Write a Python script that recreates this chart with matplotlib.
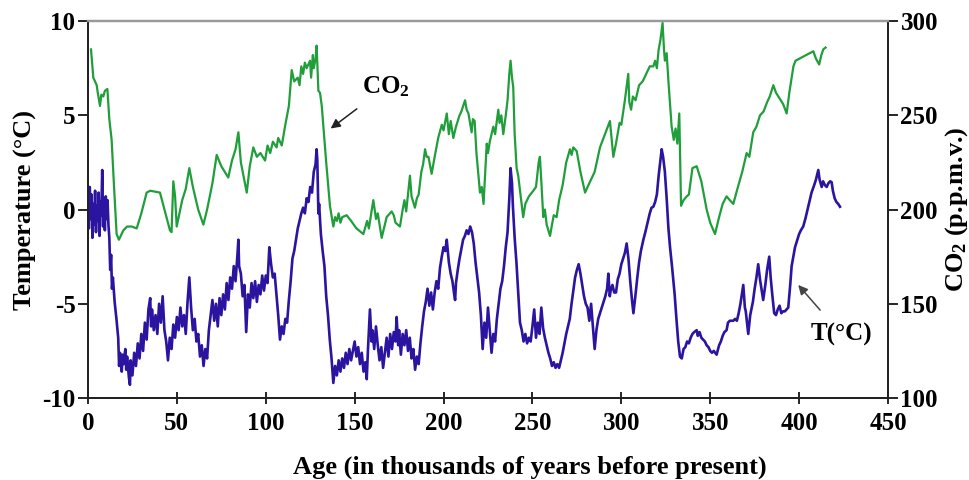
import matplotlib
matplotlib.use("Agg")
import matplotlib.pyplot as plt

plt.rcParams['font.family'] = ['Liberation Serif', 'DejaVu Serif']
plt.rcParams['font.weight'] = 'bold'
plt.rcParams['axes.labelweight'] = 'bold'
plt.rcParams['axes.unicode_minus'] = False
plt.rcParams['mathtext.fontset'] = 'custom'
plt.rcParams['mathtext.rm'] = 'Liberation Serif:bold'
plt.rcParams['mathtext.it'] = 'Liberation Serif:bold'
plt.rcParams['mathtext.bf'] = 'Liberation Serif:bold'

# ---- Temperature (deg C) vs age (kyr BP) ----
temp_age = [
    0, 0.5, 1, 1.5, 2, 2.5, 3, 3.5, 4, 4.5, 5, 5.5, 6, 6.5, 7, 7.5, 8, 8.5, 9, 9.5, 10, 10.5, 11, 11.5,
    12, 12.5, 13, 13.5, 14, 15, 16, 17, 17.5, 18, 19, 19.5, 20, 21, 21.5, 22, 23, 23.6, 24, 25, 26, 27, 28, 29,
    30, 31, 32, 33, 34, 35, 35.5, 36, 37, 38, 39, 40, 41, 42, 43, 44, 45, 46, 47, 48, 49, 50, 51, 52, 53, 54,
    55, 56, 57, 58, 59, 60, 61, 62, 63, 64, 65, 66, 67, 68, 69, 70, 71, 72, 73, 74, 75, 76, 77, 78, 79, 80,
    81, 82, 83, 84, 84.6, 85, 86, 87, 88, 89, 90, 91, 92, 93, 94, 95, 96, 97, 98, 99, 100, 101, 102, 103, 104,
    105, 106, 107, 108, 109, 110, 111, 112, 113, 114, 115, 116, 117, 118, 119, 120, 121, 122, 123, 124, 125,
    126, 127, 128, 128.6, 129, 129.6, 130, 131, 132, 133, 134, 135, 136, 137, 138, 139, 140, 141, 142, 143,
    144, 145, 146, 147, 148, 149, 150, 151, 152, 153, 154, 155, 156, 156.8, 157.5, 158.6, 159.5, 160, 161,
    162, 163, 164, 165, 166, 167, 168, 169, 170, 171, 172, 173, 173.6, 174.5, 175, 176, 177, 178, 179, 180,
    181, 182, 183, 184, 185, 186, 187, 188, 189, 190, 191, 192, 193, 194, 195, 196, 197, 198, 199, 200, 201,
    201.8, 202.5, 203, 204, 205, 206, 206.5, 207, 208, 209, 210, 211, 212, 213, 214, 215, 216, 217, 218, 219,
    220, 221, 222, 223, 224, 225, 226, 227, 228, 229, 230, 231, 232, 233, 234, 235, 236, 237, 237.7, 238.5,
    239, 240, 241, 242, 243, 244, 245, 246, 247, 248, 249, 250, 251, 252, 253, 254, 255, 256, 257, 258, 259,
    260, 261, 262, 263, 264, 265, 266, 267, 268, 269, 270, 271, 272, 273, 274, 275, 276, 277, 278, 279, 280,
    281, 282, 283, 284, 285, 286, 287, 288, 289, 290, 291, 292, 292.7, 293.5, 294, 295, 296, 297, 298, 299,
    300, 301, 302, 303, 304, 305, 306, 306.8, 308, 309, 310, 311, 312.4, 313.5, 315, 316, 317, 318, 319, 320,
    321, 322, 322.7, 323.5, 324.5, 325.5, 326.5, 327.4, 328.5, 330, 331, 332, 333, 334, 335, 336, 337, 338,
    339, 340, 341, 342.4, 343, 344, 345, 346, 347, 348, 349, 350, 351, 352, 353.6, 355, 356, 357, 358, 359.2,
    360, 361, 362, 363, 364, 365, 366, 367, 368.6, 369.5, 370, 371.4, 372.5, 374, 375, 376, 377, 378, 379,
    379.8, 381, 382, 383.2, 384, 385, 386, 387, 388, 389, 390, 391, 392, 393.9, 395, 395.8, 397.7, 399, 400,
    401, 402.3, 403.5, 405, 407, 408.5, 409.5, 410.8, 411.5, 412.7, 413.5, 414.5, 415.5, 416.5, 417.5, 418.3,
    419, 420, 421, 422, 423,
]
temp_val = [
    0.5, -1.0, 1.2, -0.5, 0.8, -1.5, 0.3, -0.8, 1.0, -1.2, 0.2, -0.6, 0.9, -1.4, 0.4, -0.3, 2.1, -0.9, 0.6, -1.1, 0.7, -0.5, 0.5, -0.8,
    -1.5, -3.2, -2.4, -4.2, -3.6, -4.9, -5.8, -6.8, -8.3, -7.6, -8.6, -7.7, -8.2, -7.4, -8.5, -7.8, -8.9, -9.3, -8.0, -8.8, -7.6, -8.3, -7.1, -7.9,
    -6.6, -7.5, -6.0, -6.9, -5.3, -4.7, -6.2, -5.3, -6.4, -5.6, -6.6, -5.0, -6.0, -4.6, -6.4, -7.0, -8.0, -6.8, -7.4, -6.1, -6.8, -5.7, -6.4, -5.2, -6.2, -5.6,
    -6.6, -4.9, -3.6, -5.2, -6.4, -5.8, -7.0, -6.6, -7.8, -7.2, -8.3, -7.4, -7.9, -6.4, -5.6, -4.8, -5.9, -5.0, -6.2, -4.7, -5.6, -4.5, -5.3, -3.9, -4.8, -3.6,
    -4.2, -3.0, -3.8, -2.5, -1.6, -3.0, -3.4, -4.6, -4.0, -6.5, -4.5, -5.2, -3.9, -4.7, -3.8, -4.9, -4.0, -4.5, -3.5, -4.3, -3.5, -3.9, -2.0, -2.9, -3.6,
    -3.4, -4.5, -5.6, -6.9, -6.2, -6.6, -5.8, -6.0, -4.8, -3.8, -2.6, -2.2, -1.6, -1.0, -0.6, -0.2, 0.1, -0.2, 0.6, 0.4, 1.2,
    0.9, 2.0, 2.4, 3.2, 2.6, -0.2, 0.3, -1.3, -2.2, -3.0, -4.6, -5.6, -6.9, -7.9, -9.2, -8.3, -8.8, -8.0, -8.6, -7.9,
    -8.4, -7.6, -8.2, -7.4, -8.0, -7.5, -7.0, -7.8, -7.3, -8.2, -7.6, -8.6, -8.1, -9.0, -7.4, -5.3, -7.0, -6.4, -7.4,
    -6.2, -7.2, -8.0, -7.3, -8.4, -7.6, -6.8, -7.8, -6.6, -7.4, -6.5, -7.0, -5.7, -7.2, -6.4, -7.7, -6.6, -7.2, -6.4, -7.5,
    -6.8, -7.9, -7.4, -8.5, -7.8, -8.2, -7.1, -6.2, -5.4, -4.9, -4.2, -5.1, -4.4, -5.3, -4.4, -3.8, -4.2, -3.1, -2.5, -2.0, -2.2,
    -1.6, -2.3, -2.8, -3.4, -3.8, -4.5, -4.8, -3.9, -3.2, -2.6, -2.1, -1.6, -1.4, -1.1, -1.3, -0.9, -1.2, -1.8, -2.8, -3.6,
    -4.4, -5.6, -7.4, -6.0, -6.8, -5.2, -6.4, -7.6, -6.6, -7.0, -5.8, -5.0, -4.2, -3.8, -3.0, -2.0, -1.2, 0.6, 2.2, 1.4,
    0.2, -1.5, -2.8, -4.4, -6.0, -6.4, -7.0, -6.6, -7.1, -6.8, -7.0, -6.2, -5.3, -6.8, -6.0, -6.6, -5.2, -6.3, -6.8, -7.2, -7.6,
    -7.9, -8.3, -8.1, -8.4, -8.2, -8.4, -8.0, -7.6, -7.1, -6.6, -6.2, -5.8, -5.0, -4.3, -3.6, -3.2, -2.9, -3.4, -4.0, -4.6, -5.0,
    -5.2, -5.9, -5.0, -6.2, -7.4, -6.4, -5.8, -5.5, -5.2, -4.9, -4.6, -4.2, -3.4, -4.6, -4.3, -4.0, -4.4, -4.4, -3.7, -3.4,
    -2.9, -2.6, -2.3, -1.8, -2.6, -3.8, -4.8, -5.5, -4.5, -3.6, -2.8, -2.2, -1.6, -1.2, -0.6, -0.2, 0.1, 0.15, 0.4, 0.8,
    1.8, 2.6, 3.2, 2.8, 2.0, 0.6, -1.0, -2.0, -3.0, -4.5, -5.8, -7.0, -7.8, -7.9, -7.4, -7.3, -7.0, -7.1,
    -6.8, -6.6, -6.5, -6.4, -6.7, -6.5, -6.8, -6.9, -7.0, -7.2, -7.3, -7.5, -7.6, -7.5, -7.7, -7.2, -7.0, -6.7, -6.5, -6.4,
    -6.0, -5.9, -5.9, -5.9, -5.8, -5.9, -5.5, -5.0, -4.0, -5.2, -5.4, -6.6, -5.6, -4.9, -4.2, -3.6, -2.9, -3.7, -4.3,
    -4.8, -4.0, -3.2, -2.5, -3.6, -4.6, -5.5, -5.6, -5.3, -5.1, -5.5, -5.4, -5.4, -5.2, -4.0, -3.0, -2.0, -1.6, -1.3,
    -1.1, -0.9, -0.5, 0.1, 0.9, 1.3, 1.6, 2.1, 1.6, 1.2, 1.5, 1.3, 1.2, 1.4, 1.5, 1.45,
    1.0, 0.6, 0.4, 0.3, 0.15,
]

# ---- CO2 (ppmv) vs age (kyr BP) ----
co2_age = [
    1.7, 3, 4.9, 5.5, 6.75, 7.5, 8.6, 9.5, 10.9, 12, 13.3, 14.5, 16.1, 17.4, 19.9, 22, 24.6, 27.4, 30, 33,
    35, 40.5, 43, 46.1, 47, 48, 49, 49.9, 51, 53, 55, 57, 59, 62, 64.9, 67, 70, 72.4, 75, 78.9, 81, 83, 84.6,
    86, 89.3, 91, 93, 95, 97, 99.6, 101, 102.5, 104, 106.1, 107, 109, 111, 113, 114.6, 116, 118, 119, 120,
    121, 122, 123, 124.9, 125.5, 126.5, 127, 128, 128.6, 129.6, 130.5, 131.5, 132.4, 134, 136.1, 138, 139,
    140, 141, 142, 143, 145.5, 148, 151, 154.9, 157, 158, 160.5, 162, 163, 165.2, 167, 168, 170.8, 172, 173,
    175.5, 177, 178, 179, 181.1, 182, 183.9, 185, 186, 187.5, 188.5, 189.6, 190.5, 191.5, 193.3, 195, 197,
    199, 200, 201.8, 203, 204, 205.5, 207, 209, 210, 212.1, 213, 214, 215.8, 216.5, 217.5, 218.5, 220.5,
    221.5, 222.5, 224.3, 225, 226, 228, 229, 230.8, 231.5, 232.5, 233.6, 235, 236, 237, 237.7, 238.5, 239.2,
    240, 241.1, 242, 244.8, 246, 248, 250.5, 252, 253.5, 254.2, 255, 256.1, 257, 258, 259.9, 261, 262, 263.6,
    265, 267, 269, 271.1, 272, 273, 274.9, 277, 279.6, 282, 285, 288, 290, 292, 293.6, 294.5, 295.5, 297,
    299, 300, 302, 303.9, 304.5, 305.5, 306.5, 308, 310, 312, 314, 316, 318, 319, 320, 321, 322, 323.2, 324,
    324.5, 325.5, 326.5, 328.3, 329.5, 330.5, 331.5, 332.6, 333.6, 335, 336.8, 338, 340, 342.4, 345, 348,
    350, 352.7, 355, 357, 359.2, 361, 363, 365, 368, 370.5, 372, 374.2, 376, 378, 380, 382, 383.5, 385.5,
    387, 389, 391, 393, 394.5, 396.8, 398, 400, 402, 404, 406, 408, 409.5, 411.3, 412.5, 413.6, 414.9,
]
co2_val = [
    285, 270, 266, 262, 255, 261, 260, 263, 264, 248, 237, 215, 187, 184, 189, 191, 191, 190, 198, 209,
    210, 209, 200, 189, 188, 215, 207, 191, 196, 205, 211, 222, 212, 200, 192, 200, 214, 229, 223, 217, 226, 232, 241,
    225, 209, 223, 233, 228, 230, 226, 234, 230, 236, 233, 238, 234, 245, 255, 274, 268, 270, 266, 276,
    272, 278, 275, 279, 270, 282, 275, 280, 287, 263, 262, 255, 244, 225, 202, 191, 196,
    194, 198, 193, 196, 197, 194, 190, 187, 194, 190, 205, 195, 198, 185, 192, 196, 199, 197, 193,
    191, 200, 205, 199, 218, 207, 201, 206, 208, 220, 224, 232, 228, 228, 219, 228, 238,
    245, 242, 251, 240, 247, 238, 244, 250, 252, 258, 253, 251, 241, 248, 247, 230, 209,
    212, 203, 235, 230, 236, 244, 240, 253, 246, 250, 240, 250, 258, 272, 279, 270, 265,
    240, 222, 218, 196, 203, 207, 210, 212, 225, 228, 215, 196, 200, 192, 186, 192, 197, 196,
    205, 213, 225, 232, 229, 233, 231, 220, 209, 214, 220, 233, 238, 243, 247, 238, 228, 235,
    246, 245, 258, 272, 257, 253, 260, 258, 266, 268, 272, 276, 276, 279, 275, 285, 290, 299, 285,
    279, 283, 268, 244, 237, 243, 235, 251, 202, 205, 207, 208, 222, 223, 215, 200,
    193, 187, 196, 203, 207, 205, 203, 210, 220, 230, 228, 241, 244, 250, 252, 257, 260, 266,
    262, 259, 256, 251, 262, 276, 279, 280, 281, 282, 283, 284, 280, 277, 282, 285, 286,
]

x_ticks = [0, 50, 100, 150, 200, 250, 300, 350, 400, 450]
temp_ticks = [-10, -5, 0, 5, 10]
co2_ticks = [100, 150, 200, 250, 300]

GREEN = '#1f9e3a'
BLUE = '#2a14a0'

fig = plt.figure(figsize=(9.69, 4.80), dpi=100)
ax = fig.add_axes([0.0908, 0.1708, 0.8256, 0.7852])
ax2 = ax.twinx()

ax.plot(temp_age, temp_val, color=BLUE, lw=1.9, zorder=3)
ax2.plot(co2_age, co2_val, color=GREEN, lw=1.6, zorder=3)

ax.set_xlim(0, 450)
ax.set_ylim(-10, 10)
ax2.set_ylim(100, 300)
ax.set_xticks(x_ticks)
ax.set_yticks(temp_ticks)
ax2.set_yticks(co2_ticks)

fs = 18
ax.tick_params(axis='y', direction='out', length=7, width=1.2, labelsize=fs, pad=2)
ax.tick_params(axis='x', direction='inout', length=8, width=1.2, labelsize=fs, pad=6)
ax2.tick_params(axis='y', direction='out', length=7, width=1.2, labelsize=fs, pad=2)
for a in (ax, ax2):
    for s in ('left', 'bottom', 'right'):
        a.spines[s].set_linewidth(1.4)
        a.spines[s].set_color('#222222')
    a.spines['top'].set_color('#999999')
    a.spines['top'].set_linewidth(1.6)

lfs = 19
ax.set_xlabel('Age (in thousands of years before present)', fontsize=lfs, va='center')
ax.xaxis.set_label_coords(0.5525, -0.183)
ax.set_ylabel('Temperature (°C)', fontsize=lfs, labelpad=4)
ax2.set_ylabel(r'CO$\mathregular{_2}$ (p.p.m.v.)', fontsize=lfs, labelpad=4)

ax.annotate(r'CO$\mathregular{_2}$', xy=(136.5, 4.3), xytext=(167.5, 6.5),
            fontsize=fs, ha='center', va='center',
            arrowprops=dict(arrowstyle='-|>', color='#222222', lw=1.1,
                            shrinkA=8, shrinkB=0, mutation_scale=14))
ax.annotate('T(°C)', xy=(399.5, -4.0), xytext=(424, -6.65),
            fontsize=fs, ha='center', va='center',
            arrowprops=dict(arrowstyle='-|>', color='#444444', lw=1.1,
                            shrinkA=10, shrinkB=0, mutation_scale=14))

fig.savefig('out.png', dpi=100)
